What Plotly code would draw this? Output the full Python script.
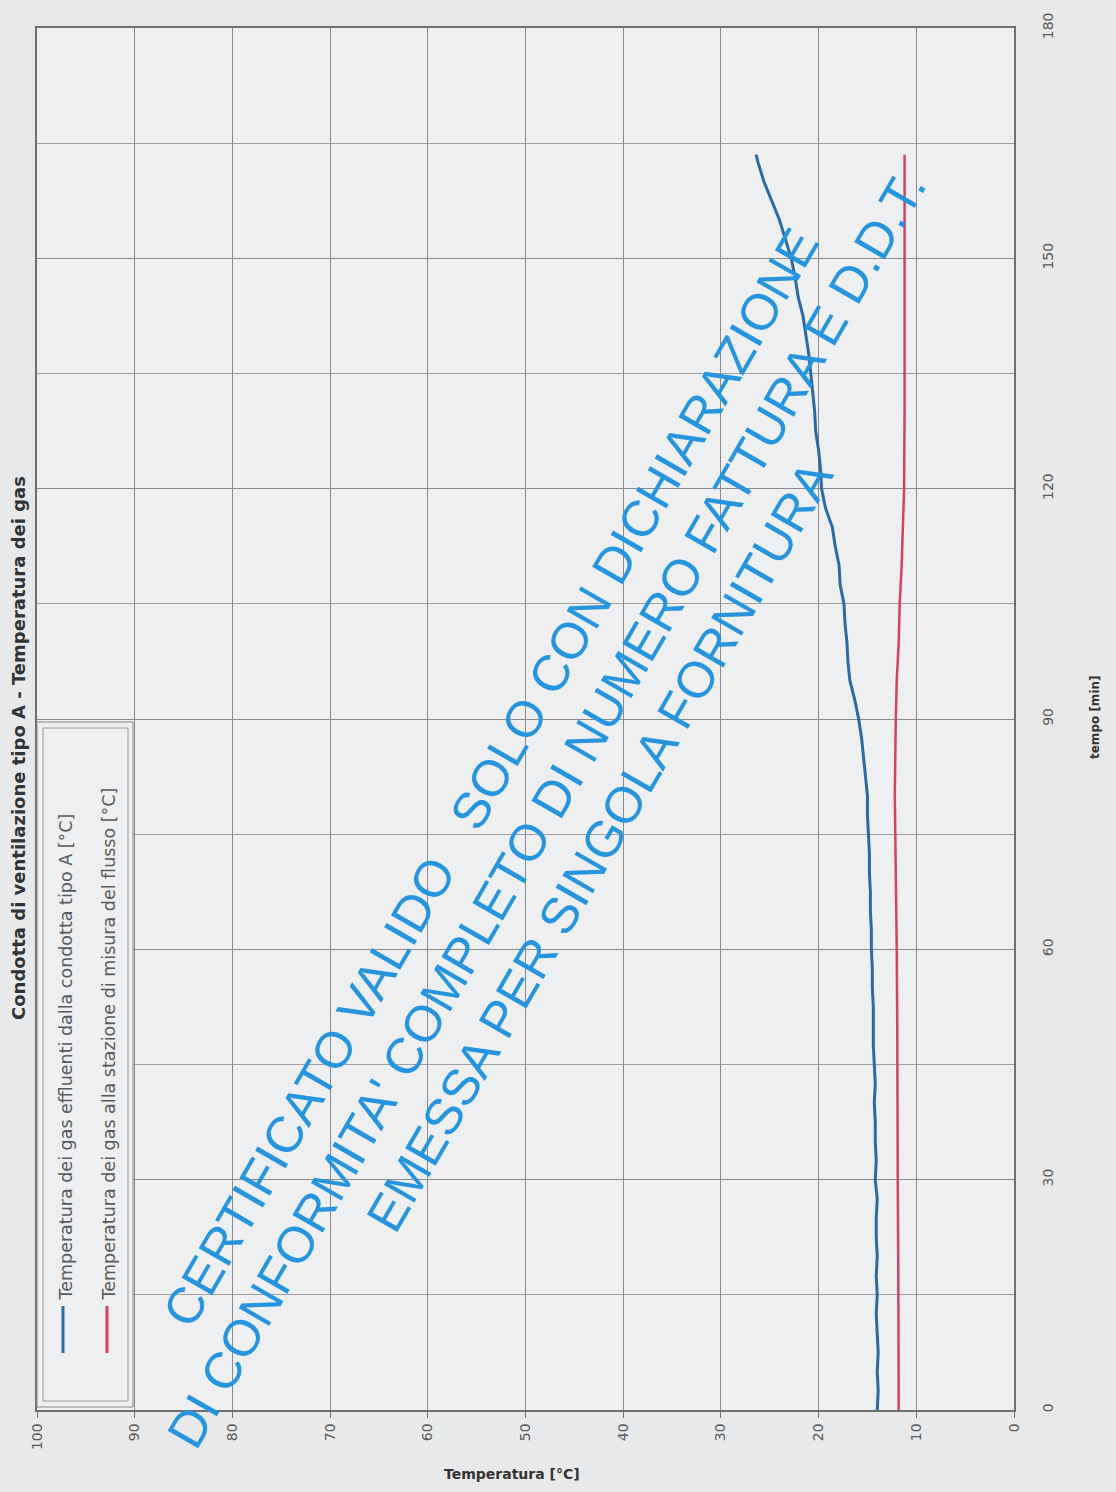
import plotly.graph_objects as go

# --- data -----------------------------------------------------------------
# gas leaving the type A duct (time in minutes, temperature in °C)
blue_time = [0, 2.5, 5, 7.5, 10, 12.5, 15, 17.5, 20, 22.5, 25, 27.5, 30, 32.5,
             35, 37.5, 40, 42.5, 45, 47.5, 50, 52.5, 55, 57.5, 60, 62.5, 65,
             67.5, 70, 72.5, 75, 77.5, 80, 82.5, 85, 87.5, 90, 92.5, 95, 97.5,
             100, 102.5, 105, 107.5, 110, 112.5, 115, 117.5, 120, 122.5, 125,
             127.5, 130, 132.5, 135, 137.5, 140, 142.5, 145, 147.5, 150, 152.5,
             155, 157.5, 160, 162.5, 163.5]
blue_temp = [14.0, 13.9, 14.0, 13.9, 14.0, 14.1, 14.0, 14.1, 14.0, 14.1, 14.1,
             14.0, 14.2, 14.1, 14.2, 14.2, 14.3, 14.2, 14.3, 14.4, 14.4, 14.4,
             14.5, 14.5, 14.6, 14.6, 14.7, 14.7, 14.8, 14.8, 14.9, 15.0, 15.0,
             15.2, 15.4, 15.6, 15.9, 16.3, 16.8, 17.0, 17.1, 17.3, 17.4, 17.8,
             17.9, 18.3, 18.6, 19.3, 19.7, 19.8, 20.0, 20.3, 20.4, 20.6, 20.8,
             21.0, 21.3, 21.6, 22.1, 22.4, 22.8, 23.4, 24.0, 24.8, 25.6, 26.2,
             26.4]

# gas at the flow measuring station
red_time = [0, 10, 20, 30, 40, 50, 60, 70, 80, 90, 95, 100, 105, 110, 115,
            120, 130, 140, 150, 160, 163.5]
red_temp = [11.8, 11.8, 11.85, 11.9, 11.9, 11.95, 12.0, 12.1, 12.2, 12.1, 12.0,
            11.8, 11.7, 11.5, 11.35, 11.25, 11.2, 11.2, 11.2, 11.2, 11.2]

temp_ticks = [100, 90, 80, 70, 60, 50, 40, 30, 20, 10, 0]
time_ticks = [0, 30, 60, 90, 120, 150, 180]

title_text = "Condotta di ventilazione tipo A - Temperatura dei gas"
blue_name = "Temperatura dei gas effluenti dalla condotta tipo A [°C]"
red_name = "Temperatura dei gas alla stazione di misura del flusso [°C]"
x_title = "Temperatura [°C]"
y_title = "tempo [min]"
stamp_lines = [
    "CERTIFICATO VALIDO\u00a0\u00a0\u00a0SOLO CON DICHIARAZIONE",
    "DI CONFORMITA' COMPLETO DI NUMERO FATTURA E D.D.T.",
    "EMESSA PER SINGOLA FORNITURA",
]

BLUE = "#2c6aa5"
RED = "#d2435c"
STAMP = "#2794de"
GRID = "#8a8a8a"
FONT = "DejaVu Sans"

W, H = 1116, 1492
X0, X1, Y0, Y1 = 37, 1014, 28, 1410  # plot frame in page pixels


def px(x):
    return (x - X0) / (X1 - X0)


def py(y):
    return (Y1 - y) / (Y1 - Y0)


fig = go.Figure()
fig.add_trace(go.Scatter(x=blue_temp, y=blue_time, mode="lines",
                         line=dict(color=BLUE, width=3), name=blue_name))
fig.add_trace(go.Scatter(x=red_temp, y=red_time, mode="lines",
                         line=dict(color=RED, width=2.5), name=red_name))

fig.update_layout(
    width=W, height=H,
    margin=dict(l=X0, r=W - X1, t=Y0, b=H - Y1),
    paper_bgcolor="#e8e9eb",
    plot_bgcolor="#eeeff1",
    showlegend=False,
    font=dict(family=FONT, color="#555555"),
)

fig.update_xaxes(
    range=[100, 0], tickvals=temp_ticks, tickangle=-90,
    tickfont=dict(size=14, color="#5a5a5a", family=FONT),
    showgrid=True, gridcolor=GRID, gridwidth=1,
    showline=True, linecolor="#6f6f6f", linewidth=1.5, mirror=True,
    ticks="outside", ticklen=6, tickcolor="#6f6f6f",
    zeroline=False,
)
fig.update_yaxes(
    range=[0, 180], tickvals=time_ticks, side="right", tickangle=-90,
    tickfont=dict(size=14, color="#5a5a5a", family=FONT), ticklabelstandoff=20,
    showgrid=True, gridcolor=GRID, gridwidth=1,
    minor=dict(dtick=15, showgrid=True, gridcolor="#a0a0a0", gridwidth=1),
    showline=True, linecolor="#6f6f6f", linewidth=1.5, mirror=True,
    zeroline=False,
)

shapes = []
# legend frame (double border)
shapes.append(dict(type="rect", xref="paper", yref="paper",
                   x0=px(37), x1=px(133), y0=py(1407), y1=py(722),
                   line=dict(color="#8a8a8a", width=1), fillcolor="#eeeff1",
                   layer="above"))
shapes.append(dict(type="rect", xref="paper", yref="paper",
                   x0=px(43), x1=px(128), y0=py(1401), y1=py(728),
                   line=dict(color="#9a9a9a", width=1), layer="above"))
# legend samples
for xc, col in [(63, BLUE), (107, RED)]:
    shapes.append(dict(type="line", xref="paper", yref="paper",
                       x0=px(xc), x1=px(xc), y0=py(1353), y1=py(1306),
                       line=dict(color=col, width=3), layer="above"))
fig.update_layout(shapes=shapes)

ann = []
for xc, txt in [(65, blue_name), (108, red_name)]:
    ann.append(dict(xref="paper", yref="paper", x=px(xc), y=py(1303),
                    text=txt, textangle=-90, showarrow=False,
                    xanchor="center", yanchor="bottom",
                    font=dict(size=17.5, color="#5a5a5a", family=FONT)))

ann.append(dict(xref="paper", yref="paper", x=px(18), y=py(748),
                text="<b>" + title_text + "</b>", textangle=-90,
                showarrow=False, xanchor="center", yanchor="middle",
                font=dict(size=18, color="#333333", family=FONT)))
ann.append(dict(xref="paper", yref="paper", x=px(512), y=py(1474),
                text="<b>" + x_title + "</b>", showarrow=False,
                xanchor="center", yanchor="middle",
                font=dict(size=14, color="#333333", family=FONT)))
ann.append(dict(xref="paper", yref="paper", x=px(1095), y=py(717),
                text="<b>" + y_title + "</b>", textangle=-90,
                showarrow=False, xanchor="center", yanchor="middle",
                font=dict(size=12, color="#333333", family=FONT)))

# diagonal certification stamp
for (cx, cy), line in zip([(490, 778), (546, 810), (600, 847)], stamp_lines):
    ann.append(dict(xref="paper", yref="paper", x=px(cx), y=py(cy),
                    text=line, textangle=-60, showarrow=False,
                    xanchor="center", yanchor="middle",
                    font=dict(size=51, color=STAMP,
                              family="Liberation Sans")))

fig.update_layout(annotations=ann)

fig.write_html("out.html")
